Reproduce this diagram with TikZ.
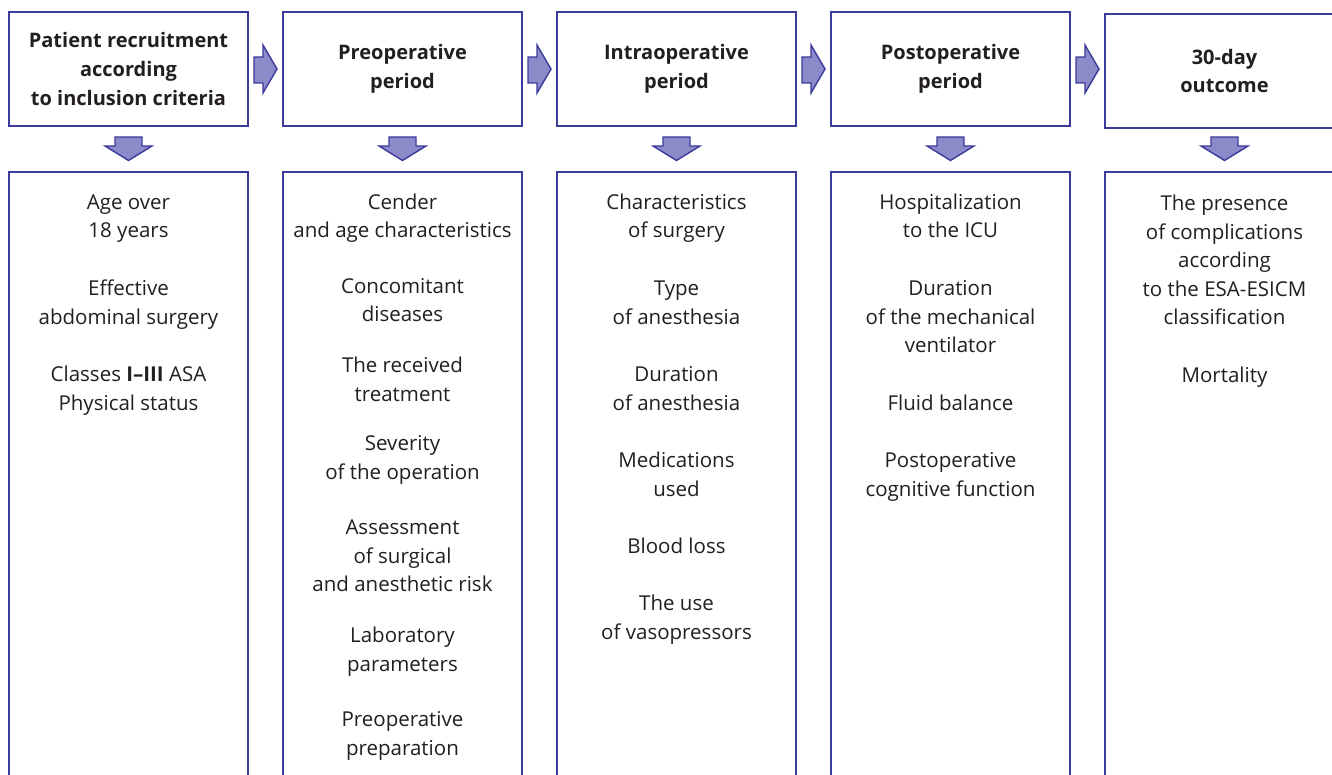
\documentclass[tikz,border=0pt]{standalone}
\usepackage{fontspec}
\setmainfont{Open Sans}
\definecolor{bord}{HTML}{3B3B9C}
\definecolor{afill}{HTML}{8C8AC8}
\definecolor{txt}{HTML}{231F20}
\begin{document}
\begin{tikzpicture}[x=1pt,y=-1pt,
  topbox/.style={draw=bord,line width=2pt,minimum width=239pt,minimum height=114pt,inner sep=0pt,
    align=center,text=txt,font=\fontsize{20}{28.6}\selectfont\bfseries},
  botbox/.style={draw=bord,line width=2pt,minimum width=239pt,minimum height=640pt,inner sep=0pt},
  item/.style={anchor=base,align=center,inner sep=0pt,text=txt,font=\fontsize{20.5}{28.6}\selectfont},
  arr/.style={draw=bord,line width=1.4pt,fill=afill,line join=miter}]
\clip (0,0) rectangle (1332,775);
\fill[white] (0,0) rectangle (1332,775);
% top boxes
\node[topbox] (h1) at (128.5,69) {Patient recruitment\\according\\to inclusion criteria};
\node[topbox] (h2) at (402.5,69) {Preoperative\\period};
\node[topbox] (h3) at (676.5,69) {Intraoperative\\period};
\node[topbox] (h4) at (950.5,69) {Postoperative\\period};
\node[topbox] (h5) at (1224.5,71) {30-day\\outcome};
% bottom boxes
\node[botbox] (b1) at (128.5,492) {};
\node[botbox] (b2) at (402.5,492) {};
\node[botbox] (b3) at (676.5,492) {};
\node[botbox] (b4) at (950.5,492) {};
\node[botbox] (b5) at (1224.5,492) {};
% right arrows
\foreach \i in {0,1,2,3}{
  \pgfmathsetmacro{\g}{248+274*\i}
  \draw[arr] (\g+6,57) -- (\g+15,57) -- (\g+15,45) -- (\g+29,69) -- (\g+15,93) -- (\g+15,83) -- (\g+6,83) -- cycle;
}
% down arrows
\foreach \i in {0,1,2,3,4}{
  \pgfmathsetmacro{\c}{128.5+274*\i}
  \draw[arr] (\c-13.5,137) -- (\c+13.5,137) -- (\c+13.5,146) -- (\c+23.5,146) -- (\c,160.5) -- (\c-23.5,146) -- (\c-13.5,146) -- cycle;
}
% column 1 (anchor = baseline of last line)
\node[item] (t11) at (128.5,238) {Age over\\18 years};
\node[item] (t12) at (128.5,324) {Effective\\abdominal surgery};
\node[item] (t13) at (128.5,410) {Classes \textbf{I–III} ASA\\Physical status};
% column 2
\node[item] (t21) at (402.5,238) {Cender\\and age characteristics};
\node[item] (t22) at (402.5,322) {Concomitant\\diseases};
\node[item] (t23) at (402.5,401) {The received\\treatment};
\node[item] (t24) at (402.5,479) {Severity\\of the operation};
\node[item] (t25) at (402.5,591.6) {Assessment\\of surgical\\and anesthetic risk};
\node[item] (t26) at (402.5,671) {Laboratory\\parameters};
\node[item] (t27) at (402.5,755) {Preoperative\\preparation};
% column 3
\node[item] (t31) at (676.5,238) {Characteristics\\of surgery};
\node[item] (t32) at (676.5,324) {Type\\of anesthesia};
\node[item] (t33) at (676.5,410) {Duration\\of anesthesia};
\node[item] (t34) at (676.5,496) {Medications\\used};
\node[item] (t35) at (676.5,553.4) {Blood loss};
\node[item] (t36) at (676.5,639) {The use\\of vasopressors};
% column 4
\node[item] (t41) at (950.5,238) {Hospitalization\\to the ICU};
\node[item] (t42) at (950.5,352.6) {Duration\\of the mechanical\\ventilator};
\node[item] (t43) at (950.5,410.4) {Fluid balance};
\node[item] (t44) at (950.5,496) {Postoperative\\cognitive function};
% column 5
\node[item] (t51) at (1224.5,324.8) {The presence\\of complications\\according\\to the ESA-ESICM\\classification};
\node[item] (t52) at (1224.5,382.4) {Mortality};
\end{tikzpicture}
\end{document}
